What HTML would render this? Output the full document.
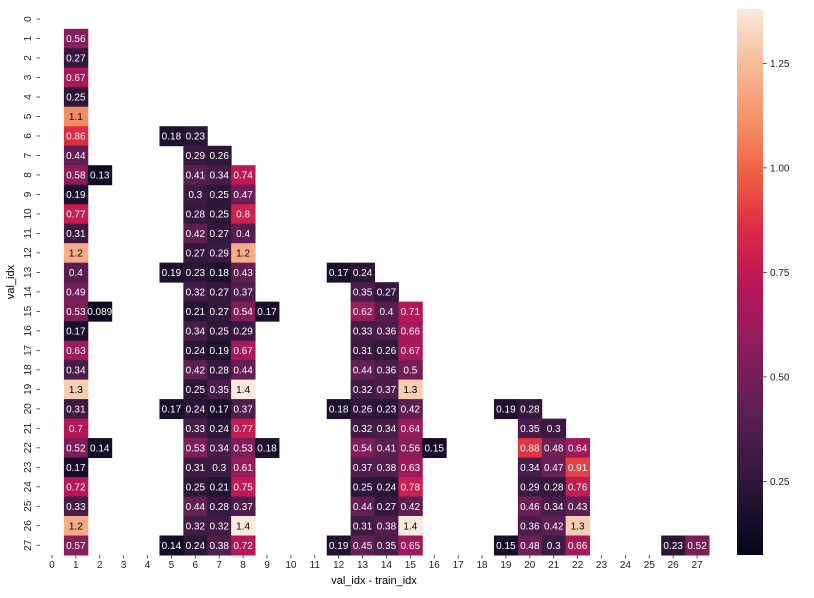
<!DOCTYPE html>
<html><head><meta charset="utf-8"><style>
body{margin:0;background:#fff;font-family:"Liberation Sans","DejaVu Sans",sans-serif;}
</style></head><body>
<svg id="chart" width="814" height="593" xmlns="http://www.w3.org/2000/svg" font-family="Liberation Sans, DejaVu Sans, sans-serif">
<defs>
<linearGradient id="cbgrad" x1="0" y1="1" x2="0" y2="0">
<stop offset="0" stop-color="#03051a"/><stop offset="0.1" stop-color="#221331"/>
<stop offset="0.2" stop-color="#451c47"/><stop offset="0.3" stop-color="#6a1f56"/>
<stop offset="0.4" stop-color="#921c5b"/><stop offset="0.5" stop-color="#b91657"/>
<stop offset="0.6" stop-color="#dd2c45"/><stop offset="0.7" stop-color="#f06043"/>
<stop offset="0.8" stop-color="#f5936a"/><stop offset="0.9" stop-color="#f6bc99"/>
<stop offset="1" stop-color="#faebdd"/></linearGradient>
</defs>
<g id="cells"></g>
<g id="axes"></g>
<rect x="737" y="9" width="26" height="546" fill="url(#cbgrad)"/>
<g id="cbticks"></g>
<text x="14" y="282" font-size="11" text-anchor="middle" transform="rotate(-90 14 282)">val_idx</text>
<text x="374" y="584" font-size="11" text-anchor="middle">val_idx - train_idx</text>
</svg>
<script>
const cellRows = [1,2,3,4,5,6,6,6,7,7,7,8,8,8,8,8,9,9,9,9,10,10,10,10,11,11,11,11,12,12,12,12,
13,13,13,13,13,13,13,14,14,14,14,14,14,15,15,15,15,15,15,15,15,15,16,16,16,16,16,16,16,
17,17,17,17,17,17,17,18,18,18,18,18,18,18,19,19,19,19,19,19,19,
20,20,20,20,20,20,20,20,20,20,20,21,21,21,21,21,21,21,21,21,
22,22,22,22,22,22,22,22,22,22,22,22,22,23,23,23,23,23,23,23,23,23,23,
24,24,24,24,24,24,24,24,24,24,25,25,25,25,25,25,25,25,25,25,26,26,26,26,26,26,26,26,26,26,
27,27,27,27,27,27,27,27,27,27,27,27,27,27,27,27];
const cellCols = [1,1,1,1,1,1,5,6,1,6,7,1,2,6,7,8,1,6,7,8,1,6,7,8,1,6,7,8,1,6,7,8,
1,5,6,7,8,12,13,1,6,7,8,13,14,1,2,6,7,8,9,13,14,15,1,6,7,8,13,14,15,
1,6,7,8,13,14,15,1,6,7,8,13,14,15,1,6,7,8,13,14,15,
1,5,6,7,8,12,13,14,15,19,20,1,6,7,8,13,14,15,20,21,
1,2,6,7,8,9,13,14,15,16,20,21,22,1,6,7,8,13,14,15,20,21,22,
1,6,7,8,13,14,15,20,21,22,1,6,7,8,13,14,15,20,21,22,1,6,7,8,13,14,15,20,21,22,
1,5,6,7,8,12,13,14,15,19,20,21,22,26,27];
const cellVals = [0.56,0.27,0.67,0.25,1.1,0.86,0.18,0.23,0.44,0.29,0.26,0.58,0.13,0.41,0.34,0.74,0.19,0.3,0.25,0.47,0.77,0.28,0.25,0.8,0.31,0.42,0.27,0.4,1.2,0.27,0.29,1.2,
0.4,0.19,0.23,0.18,0.43,0.17,0.24,0.49,0.32,0.27,0.37,0.35,0.27,0.53,0.089,0.21,0.27,0.54,0.17,0.62,0.4,0.71,0.17,0.34,0.25,0.29,0.33,0.36,0.66,
0.63,0.24,0.19,0.67,0.31,0.26,0.67,0.34,0.42,0.28,0.44,0.44,0.36,0.5,1.3,0.25,0.35,1.4,0.32,0.37,1.3,
0.31,0.17,0.24,0.17,0.37,0.18,0.26,0.23,0.42,0.19,0.28,0.7,0.33,0.24,0.77,0.32,0.34,0.64,0.35,0.3,
0.52,0.14,0.53,0.34,0.53,0.18,0.54,0.41,0.56,0.15,0.88,0.48,0.64,0.17,0.31,0.3,0.61,0.37,0.38,0.63,0.34,0.47,0.91,
0.72,0.25,0.21,0.75,0.25,0.24,0.78,0.29,0.28,0.76,0.33,0.44,0.28,0.37,0.44,0.27,0.42,0.46,0.34,0.43,1.2,0.32,0.32,1.4,0.31,0.38,1.4,0.36,0.42,1.3,
0.57,0.14,0.24,0.38,0.72,0.19,0.45,0.35,0.65,0.15,0.48,0.3,0.66,0.23,0.52];
const xTickLabels = [0,1,2,3,4,5,6,7,8,9,10,11,12,13,14,15,16,17,18,19,20,21,22,23,24,25,26,27];
const yTickLabels = [0,1,2,3,4,5,6,7,8,9,10,11,12,13,14,15,16,17,18,19,20,21,22,23,24,25,26,27];
const cbTicks = [0.25,0.5,0.75,1.0,1.25];
const cbTickLabels = ["0.25","0.50","0.75","1.00","1.25"];

const NS="http://www.w3.org/2000/svg";
const L=40,T=9.3,R=709,B=555,n=28;
const cw=(R-L)/n, ch=(B-T)/n;
const xPos=c=>L+c*cw, yPos=r=>T+r*ch;
const vmin=0.074, vmax=1.38;
const cbY=v=>555-(v-vmin)/(vmax-vmin)*546;
const stops=[[3,5,26],[34,19,49],[69,28,71],[106,31,86],[146,28,91],[185,22,87],[221,44,69],[240,96,67],[245,147,106],[246,188,153],[250,235,221]];
function cmap(v){let t=Math.max(0,Math.min(1,(v-vmin)/(vmax-vmin)))*10;let i=Math.min(9,Math.floor(t)),f=t-i;
const a=stops[i],b=stops[i+1];return `rgb(${a.map((x,k)=>Math.round(x+(b[k]-x)*f)).join(',')})`;}
function mk(tag,attrs,parent){const e=document.createElementNS(NS,tag);for(const k in attrs)e.setAttribute(k,attrs[k]);parent.appendChild(e);return e;}
const cells=document.getElementById('cells');
cellVals.forEach((v,i)=>{
  const r=mk('rect',{x:xPos(cellCols[i]),y:yPos(cellRows[i]),width:cw+0.5,height:ch+0.5,fill:cmap(v)},cells);
  
  
  const t=mk('text',{x:xPos(cellCols[i])+cw/2,y:yPos(cellRows[i])+ch/2+3.5,'font-size':10,'text-anchor':'middle',fill:v>1.0?'#000':'#fff'},cells);
  
  
  t.textContent=String(v);
});
const ax=document.getElementById('axes');
xTickLabels.forEach((lab,i)=>{
  const x=xPos(i)+cw/2;
  mk('line',{x1:x,x2:x,y1:B,y2:B+3.5,stroke:'#333','stroke-width':0.8},ax);
  const t=mk('text',{x:x,y:B+13,'font-size':10,'text-anchor':'middle',fill:'#222'},ax);
  
  
  t.textContent=lab;
});
yTickLabels.forEach((lab,i)=>{
  const y=yPos(i)+ch/2;
  mk('line',{x1:L-3.5,x2:L,y1:y,y2:y,stroke:'#333','stroke-width':0.8},ax);
  const t=mk('text',{x:31,y:y,'font-size':10,'text-anchor':'middle',fill:'#222',transform:`rotate(-90 31 ${y})`},ax);
  
  
  t.textContent=lab;
});
const cb=document.getElementById('cbticks');
cbTicks.forEach((v,i)=>{
  const y=cbY(v);
  mk('line',{x1:763,x2:767,y1:y,y2:y,stroke:'#333','stroke-width':0.8},cb);
  const t=mk('text',{x:770,y:y+3.5,'font-size':10,fill:'#222'},cb);
  
  
  t.textContent=cbTickLabels[i];
});
</script>
</body></html>
